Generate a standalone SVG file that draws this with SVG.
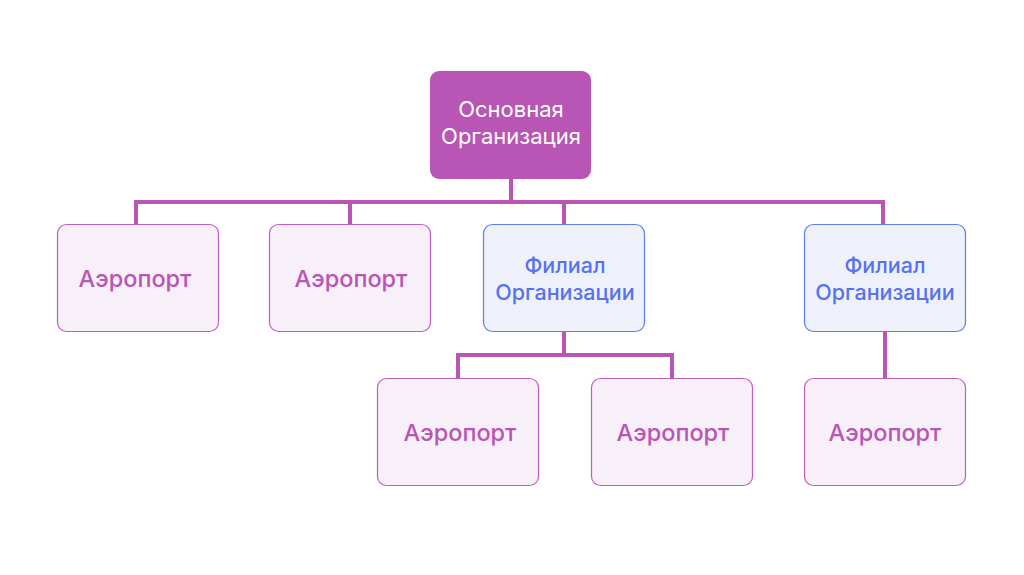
<svg xmlns="http://www.w3.org/2000/svg" width="1024" height="575" viewBox="0 0 1024 575">
<style>
.conn{fill:none;stroke:#B955B4;stroke-width:4;stroke-linejoin:miter}
.main rect{fill:#B955B4}
.main text{fill:#FFFFFF;font-size:22px}
.air rect{fill:#F8F0F8;stroke:#C25CC0;stroke-width:1.2}
.air text{fill:#B955B4;font-size:23.5px;font-weight:500}
.fil rect{fill:#EEF1FA;stroke:#5B7CF5;stroke-width:1.2}
.fil text{fill:#5672F0;font-size:21.5px;font-weight:500}
text{font-family:Inter,"Noto Sans","Liberation Sans",sans-serif;text-anchor:middle}
</style>
<rect width="1024" height="575" fill="#FFFFFF"/>
<g id="connectors">
<path class="conn" d="M511 179V202M136 224V202H883V224M350 202V224M564 202V224"/>
<path class="conn" d="M564 332V355M458 378V355H672V378"/>
<path class="conn" d="M885 332V378"/>
</g>
<g id="main" class="main"><rect x="430" y="71" width="161" height="108" rx="9"/><text x="511" y="117">Основная</text><text x="511" y="144">Организация</text></g>
<g id="air1" class="air"><rect x="57.5" y="224.5" width="161" height="107" rx="9"/><text x="135" y="286.5">Аэропорт</text></g>
<g id="air2" class="air"><rect x="269.5" y="224.5" width="161" height="107" rx="9"/><text x="351" y="286.5">Аэропорт</text></g>
<g id="fil1" class="fil"><rect x="483.5" y="224.5" width="161" height="107" rx="9"/><text x="565" y="273">Филиал</text><text x="565" y="299.5">Организации</text></g>
<g id="fil2" class="fil"><rect x="804.5" y="224.5" width="161" height="107" rx="9"/><text x="885" y="273">Филиал</text><text x="885" y="299.5">Организации</text></g>
<g id="air3" class="air"><rect x="377.5" y="378.5" width="161" height="107" rx="9"/><text x="460" y="440.5">Аэропорт</text></g>
<g id="air4" class="air"><rect x="591.5" y="378.5" width="161" height="107" rx="9"/><text x="673" y="440.5">Аэропорт</text></g>
<g id="air5" class="air"><rect x="804.5" y="378.5" width="161" height="107" rx="9"/><text x="885" y="440.5">Аэропорт</text></g>
</svg>
